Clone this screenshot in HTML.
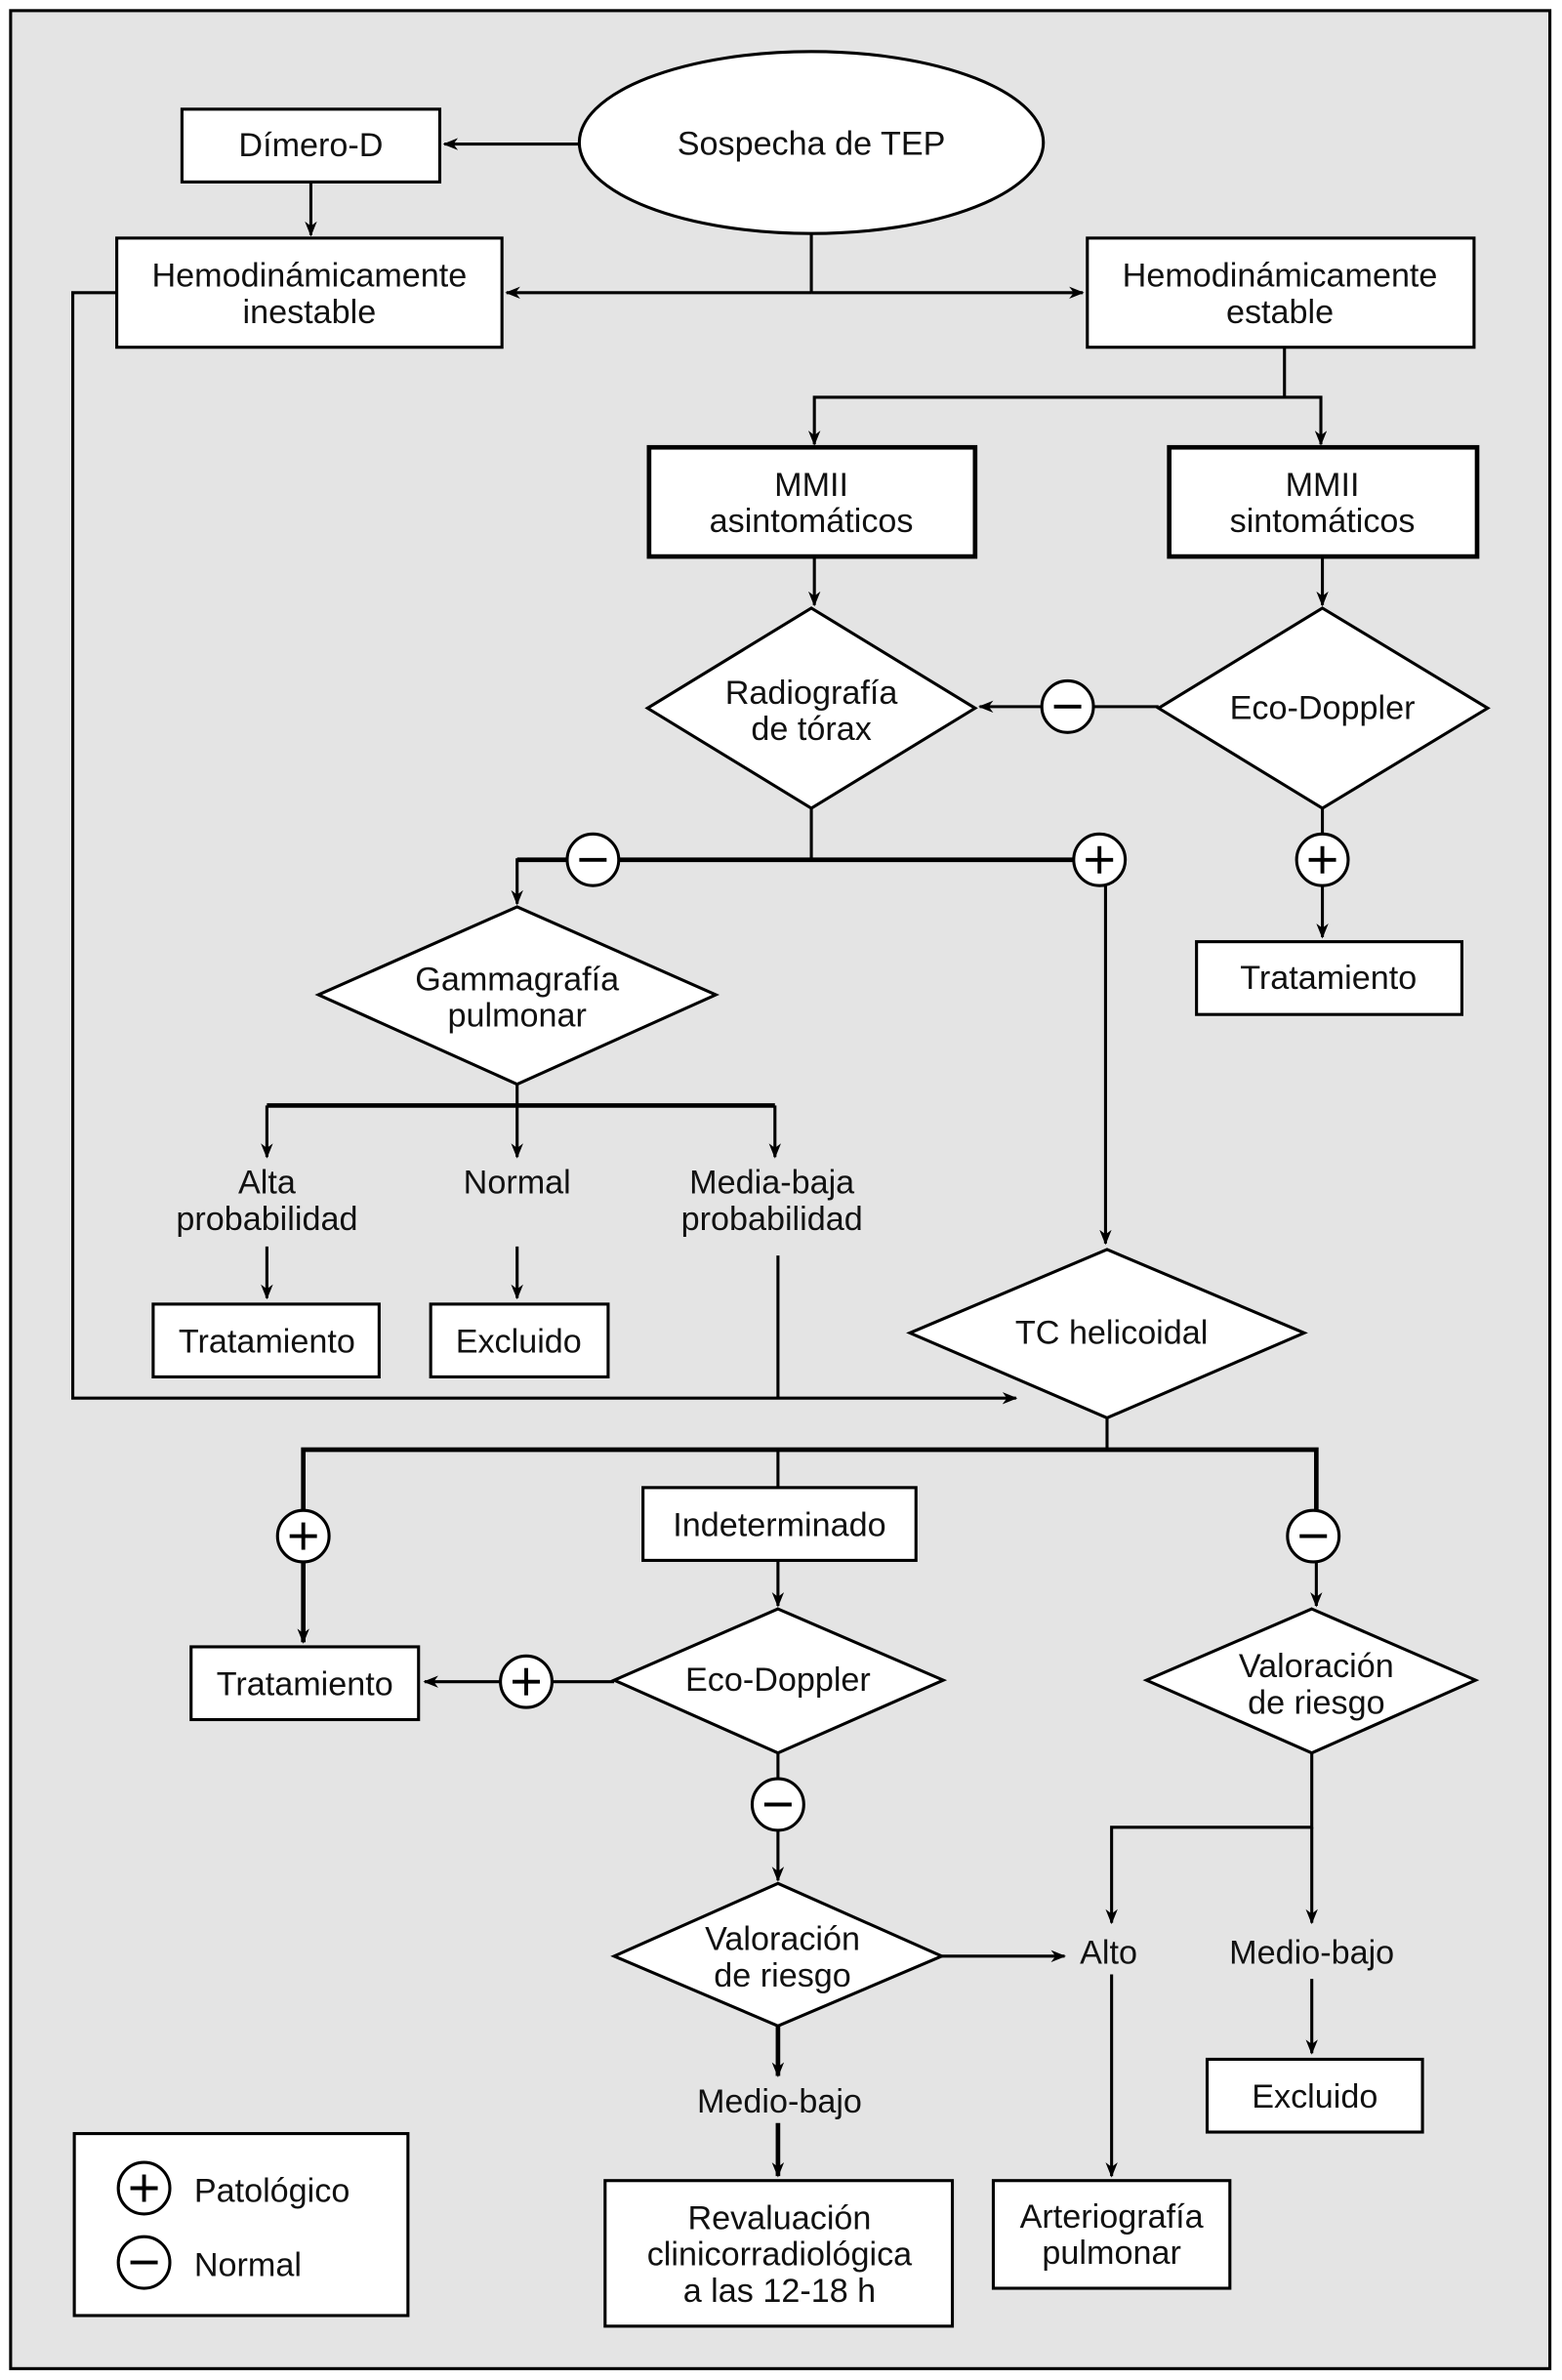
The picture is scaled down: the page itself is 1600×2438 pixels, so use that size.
<!DOCTYPE html>
<html><head><meta charset="utf-8"><style>
html,body{margin:0;padding:0;background:#fff}
svg{display:block}
text{font-family:"Liberation Sans",sans-serif;font-size:22px;fill:#111;text-anchor:middle}
</style></head><body>
<svg width="1600" height="2438" viewBox="0 0 1030 1569.5" preserveAspectRatio="none" xmlns="http://www.w3.org/2000/svg">
<defs><marker id="a" markerWidth="10" markerHeight="8" refX="9" refY="4" orient="auto" markerUnits="userSpaceOnUse"><path d="M0,0 L10,4 L0,8 L3,4z" fill="#000"/></marker></defs>
<rect x="7" y="7" width="1015" height="1555" fill="#e4e4e4" stroke="#000" stroke-width="2"/>
<g stroke="#000" stroke-width="2" fill="none">
<line x1="382" y1="95" x2="293" y2="95" marker-end="url(#a)"/>
<line x1="205" y1="120" x2="205" y2="155" marker-end="url(#a)"/>
<line x1="535" y1="154" x2="535" y2="193"/>
<line x1="535" y1="193" x2="334" y2="193" marker-end="url(#a)"/>
<line x1="535" y1="193" x2="714" y2="193" marker-end="url(#a)"/>
<polyline points="77,193 48,193 48,922 670,922" marker-end="url(#a)"/>
<polyline points="847,229 847,262 537,262 537,293" marker-end="url(#a)"/>
<polyline points="847,262 871,262 871,293" marker-end="url(#a)"/>
<line x1="537" y1="367" x2="537" y2="399" marker-end="url(#a)"/>
<line x1="872" y1="367" x2="872" y2="399" marker-end="url(#a)"/>
<line x1="764" y1="466" x2="721" y2="466"/>
<line x1="687" y1="466" x2="646" y2="466" marker-end="url(#a)"/>
<line x1="872" y1="533" x2="872" y2="550"/>
<line x1="872" y1="584" x2="872" y2="618" marker-end="url(#a)"/>
<line x1="535" y1="533" x2="535" y2="567"/>
<line x1="341" y1="567" x2="708" y2="567" stroke-width="3"/>
<line x1="341" y1="566" x2="341" y2="596" marker-end="url(#a)"/>
<line x1="729" y1="584" x2="729" y2="820" marker-end="url(#a)"/>
<line x1="341" y1="715" x2="341" y2="729"/>
<line x1="176" y1="729" x2="511" y2="729" stroke-width="3"/>
<line x1="176" y1="729" x2="176" y2="763" marker-end="url(#a)"/>
<line x1="341" y1="729" x2="341" y2="763" marker-end="url(#a)"/>
<line x1="511" y1="729" x2="511" y2="763" marker-end="url(#a)"/>
<line x1="176" y1="822" x2="176" y2="856" marker-end="url(#a)"/>
<line x1="341" y1="822" x2="341" y2="856" marker-end="url(#a)"/>
<line x1="513" y1="828" x2="513" y2="922"/>
<line x1="730" y1="935" x2="730" y2="956"/>
<polyline points="200,1083 200,956 868,956 868,996" stroke-width="3"/>
<line x1="200" y1="1030" x2="200" y2="1083" marker-end="url(#a)"/>
<line x1="868" y1="1030" x2="868" y2="1059" marker-end="url(#a)"/>
<line x1="513" y1="956" x2="513" y2="981"/>
<line x1="513" y1="1029" x2="513" y2="1059" marker-end="url(#a)"/>
<line x1="405" y1="1109" x2="364" y2="1109"/>
<line x1="330" y1="1109" x2="280" y2="1109" marker-end="url(#a)"/>
<line x1="513" y1="1156" x2="513" y2="1173"/>
<line x1="513" y1="1207" x2="513" y2="1240" marker-end="url(#a)"/>
<line x1="621" y1="1290" x2="702" y2="1290" marker-end="url(#a)"/>
<line x1="513" y1="1336" x2="513" y2="1369" marker-end="url(#a)" stroke-width="3"/>
<line x1="513" y1="1400" x2="513" y2="1435" marker-end="url(#a)" stroke-width="3"/>
<polyline points="865,1156 865,1205 733,1205 733,1268" marker-end="url(#a)"/>
<line x1="865" y1="1205" x2="865" y2="1268" marker-end="url(#a)"/>
<line x1="865" y1="1305" x2="865" y2="1354" marker-end="url(#a)"/>
<line x1="733" y1="1302" x2="733" y2="1435" marker-end="url(#a)"/>
</g>
<g stroke="#000" stroke-width="2" fill="#fff">
<ellipse cx="535" cy="94" rx="153" ry="60"/>
<rect x="120" y="72" width="170" height="48"/>
<rect x="77" y="157" width="254" height="72"/>
<rect x="717" y="157" width="255" height="72"/>
<rect x="428" y="295" width="215" height="72" stroke-width="3"/>
<rect x="771" y="295" width="203" height="72" stroke-width="3"/>
<polygon points="535,401 643,467 535,533 427,467"/>
<polygon points="872,401 981,467 872,533 764,467"/>
<rect x="789" y="621" width="175" height="48"/>
<polygon points="341,598 472,656 341,715 210,656"/>
<rect x="101" y="860" width="149" height="48"/>
<rect x="284" y="860" width="117" height="48"/>
<polygon points="730,824 860,879 730,935 600,879"/>
<rect x="424" y="981" width="180" height="48"/>
<rect x="126" y="1086" width="150" height="48"/>
<polygon points="513,1061 622,1108 513,1156 405,1108"/>
<polygon points="865,1061 973,1108 865,1156 756,1108"/>
<polygon points="513,1242 621,1290 513,1336 405,1290"/>
<rect x="796" y="1358" width="142" height="48"/>
<rect x="399" y="1438" width="229" height="96"/>
<rect x="655" y="1438" width="156" height="71"/>
<rect x="49" y="1407" width="220" height="120"/>
<circle cx="704" cy="466" r="17"/><circle cx="872" cy="567" r="17"/>
<circle cx="391" cy="567" r="17"/><circle cx="725" cy="567" r="17"/>
<circle cx="200" cy="1013" r="17"/><circle cx="866" cy="1013" r="17"/>
<circle cx="347" cy="1109" r="17"/><circle cx="513" cy="1190" r="17"/>
<circle cx="95" cy="1443" r="17"/><circle cx="95" cy="1492" r="17"/>
</g>
<g stroke="#000" stroke-width="2.5">
<line x1="695" y1="466" x2="713" y2="466"/>
<line x1="863" y1="567" x2="881" y2="567"/><line x1="872" y1="558" x2="872" y2="576"/>
<line x1="382" y1="567" x2="400" y2="567"/>
<line x1="716" y1="567" x2="734" y2="567"/><line x1="725" y1="558" x2="725" y2="576"/>
<line x1="191" y1="1013" x2="209" y2="1013"/><line x1="200" y1="1004" x2="200" y2="1022"/>
<line x1="857" y1="1013" x2="875" y2="1013"/>
<line x1="338" y1="1109" x2="356" y2="1109"/><line x1="347" y1="1100" x2="347" y2="1118"/>
<line x1="504" y1="1190" x2="522" y2="1190"/>
<line x1="86" y1="1443" x2="104" y2="1443"/><line x1="95" y1="1434" x2="95" y2="1452"/>
<line x1="86" y1="1492" x2="104" y2="1492"/>
</g>
<text x="535" y="102">Sospecha de TEP</text>
<text x="205" y="103">Dímero-D</text>
<text x="204" y="189">Hemodinámicamente</text><text x="204" y="213">inestable</text>
<text x="844" y="189">Hemodinámicamente</text><text x="844" y="213">estable</text>
<text x="535" y="327">MMII</text><text x="535" y="351">asintomáticos</text>
<text x="872" y="327">MMII</text><text x="872" y="351">sintomáticos</text>
<text x="535" y="464">Radiografía</text><text x="535" y="488">de tórax</text>
<text x="872" y="474">Eco-Doppler</text>
<text x="876" y="652">Tratamiento</text>
<text x="341" y="653">Gammagrafía</text><text x="341" y="677">pulmonar</text>
<text x="176" y="787">Alta</text><text x="176" y="811">probabilidad</text>
<text x="341" y="787">Normal</text>
<text x="509" y="787">Media-baja</text><text x="509" y="811">probabilidad</text>
<text x="176" y="892">Tratamiento</text>
<text x="342" y="892">Excluido</text>
<text x="733" y="886">TC helicoidal</text>
<text x="514" y="1013">Indeterminado</text>
<text x="201" y="1118">Tratamiento</text>
<text x="513" y="1115">Eco-Doppler</text>
<text x="868" y="1106">Valoración</text><text x="868" y="1130">de riesgo</text>
<text x="516" y="1286">Valoración</text><text x="516" y="1310">de riesgo</text>
<text x="731" y="1295">Alto</text>
<text x="865" y="1295">Medio-bajo</text>
<text x="867" y="1390">Excluido</text>
<text x="514" y="1393">Medio-bajo</text>
<text x="514" y="1470">Revaluación</text><text x="514" y="1494">clinicorradiológica</text><text x="514" y="1518">a las 12-18 h</text>
<text x="733" y="1469">Arteriografía</text><text x="733" y="1493">pulmonar</text>
<text x="128" y="1452" style="text-anchor:start">Patológico</text>
<text x="128" y="1501" style="text-anchor:start">Normal</text>
</svg>
</body></html>
